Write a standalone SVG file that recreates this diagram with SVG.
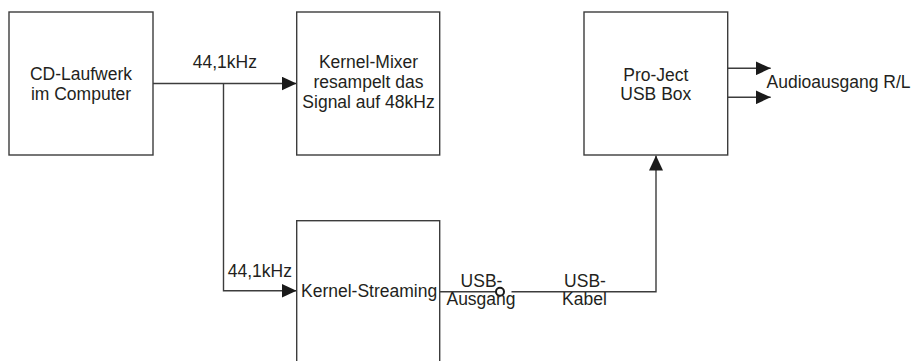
<svg xmlns="http://www.w3.org/2000/svg" width="912" height="361" viewBox="0 0 912 361">
<style>
.box{fill:#fff;stroke:#3c3c3c;stroke-width:1.4}
.ln{fill:none;stroke:#3c3c3c;stroke-width:1.4}
text{font-family:"Liberation Sans",Arial,sans-serif;font-size:17.5px;fill:#231f20}
.c{text-anchor:middle}
</style>
<defs>
<marker id="ah" viewBox="0 0 15 14" refX="15" refY="7" markerWidth="15" markerHeight="14" markerUnits="userSpaceOnUse" orient="auto">
<path d="M0,0 L15,7 L0,14 Z" fill="#1a1a1a"/>
</marker>
</defs>
<g id="connectors">
<path class="ln" d="M153,83.5 H296.5" marker-end="url(#ah)"/>
<path class="ln" d="M223.5,83.5 V290.8 H296.5" marker-end="url(#ah)"/>
<path class="ln" d="M439.5,291.7 H496"/>
<circle cx="500" cy="291.7" r="4" fill="#fff" stroke="#1a1a1a" stroke-width="2"/>
<path class="ln" d="M511.5,291.7 H656 V155.5" marker-end="url(#ah)"/>
<path class="ln" d="M727.7,68.3 H770.7" marker-end="url(#ah)"/>
<path class="ln" d="M727.7,97.3 H770.7" marker-end="url(#ah)"/>
<text x="192.7" y="68.3">44,1kHz</text>
<text x="227.7" y="276.7">44,1kHz</text>
<text class="c" x="481.5" y="286.7">USB-</text>
<text class="c" x="481" y="305">Ausgang</text>
<text class="c" x="585" y="286.7">USB-</text>
<text class="c" x="584.5" y="305">Kabel</text>
<text x="766.5" y="87.5">Audioausgang R/L</text>
</g>
<g id="cd">
<rect class="box" x="9" y="12" width="144" height="143"/>
<text class="c" x="81" y="80">CD-Laufwerk</text>
<text class="c" x="81" y="99.5">im Computer</text>
</g>
<g id="mixer">
<rect class="box" x="296.7" y="12" width="143" height="143"/>
<text class="c" x="368.5" y="68.3">Kernel-Mixer</text>
<text class="c" x="368.5" y="88">resampelt das</text>
<text class="c" x="368.5" y="107.7">Signal auf 48kHz</text>
</g>
<g id="streaming">
<rect class="box" x="296.7" y="220.7" width="143" height="145"/>
<text x="301" y="296.7">Kernel-Streaming</text>
</g>
<g id="projekt">
<rect class="box" x="584" y="12" width="143.7" height="143"/>
<text class="c" x="655.8" y="81">Pro-Ject</text>
<text class="c" x="655.8" y="100">USB Box</text>
</g>
</svg>
